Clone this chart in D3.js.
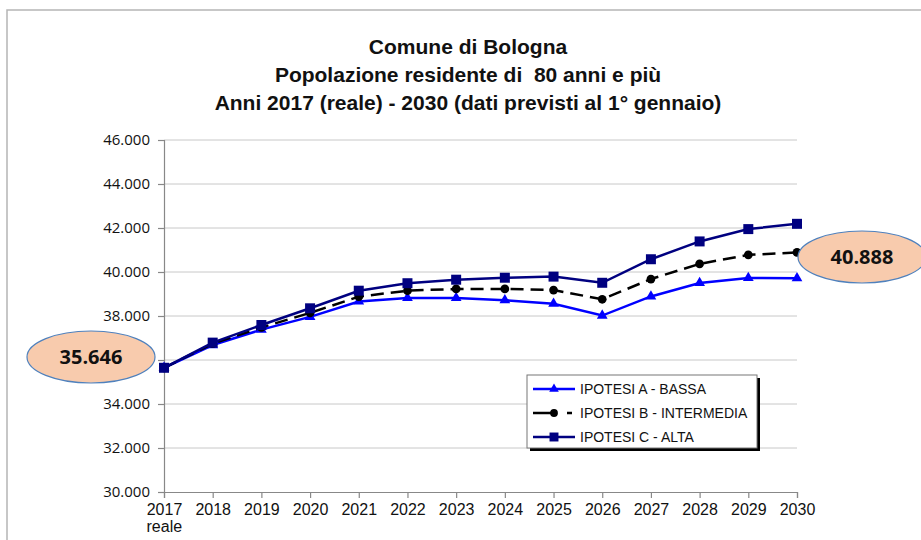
<!DOCTYPE html>
<html>
<head>
<meta charset="utf-8">
<script src="https://cdn.jsdelivr.net/npm/d3@7"></script>
<style>
  body { margin: 0; background: #fff; }
  svg { display: block; }
</style>
</head>
<body>
<svg id="chart" width="921" height="540"></svg>
<script>
const years = [2017, 2018, 2019, 2020, 2021, 2022, 2023, 2024, 2025, 2026, 2027, 2028, 2029, 2030];
const bassa = [35646, 36680, 37380, 37960, 38660, 38820, 38820, 38720, 38560, 38020, 38890, 39500, 39730, 39720];
const intermedia = [35646, 36740, 37480, 38140, 38880, 39150, 39230, 39230, 39180, 38760, 39680, 40370, 40780, 40888];
const alta = [35646, 36790, 37590, 38350, 39150, 39490, 39650, 39740, 39790, 39510, 40580, 41390, 41950, 42190];
const yTicks = [30000, 32000, 34000, 36000, 38000, 40000, 42000, 44000, 46000];
const titleLines = ["Comune di Bologna", "Popolazione residente di  80 anni e più", "Anni 2017 (reale) - 2030 (dati previsti al 1° gennaio)"];
const seriesNames = ["IPOTESI A - BASSA", "IPOTESI B - INTERMEDIA", "IPOTESI C - ALTA"];

const svg = d3.select("#chart");
const margin = { top: 140, left: 164, right: 124, bottom: 48 };
const width = 921, height = 540;

const x = d3.scalePoint().domain(years).range([margin.left, width - margin.right]);
const y = d3.scaleLinear().domain([30000, 46000]).range([height - margin.bottom, margin.top]);
const fmt = (d) => d3.format(",")(d).replace(/,/g, ".");

// outer frame
svg.append("path")
  .attr("d", `M7,${height} V10 H${width}`)
  .attr("fill", "none").attr("stroke", "#b5b5b5").attr("stroke-width", 1.5);

// title
svg.append("g").selectAll("text").data(titleLines).enter().append("text")
  .attr("x", 468).attr("y", (d, i) => 54 + i * 28)
  .attr("text-anchor", "middle")
  .attr("font-family", "Liberation Sans, Arial, sans-serif")
  .attr("font-weight", "bold").attr("font-size", 21).attr("fill", "#111")
  .attr("xml:space", "preserve")
  .text((d) => d);

// grid
svg.append("g").selectAll("line").data(yTicks.slice(1)).enter().append("line")
  .attr("x1", margin.left).attr("x2", width - margin.right)
  .attr("y1", (d) => y(d)).attr("y2", (d) => y(d))
  .attr("stroke", "#c8c8c8").attr("stroke-width", 1);

// axes
const yAxis = svg.append("g").attr("transform", `translate(${margin.left},0)`)
  .call(d3.axisLeft(y).tickValues(yTicks).tickSize(6).tickPadding(8).tickFormat(fmt));
yAxis.selectAll("text").attr("font-family", "Open Sans, sans-serif").attr("font-size", 15).attr("fill", "#111");

const xAxis = svg.append("g").attr("transform", `translate(0,${y(30000)})`)
  .call(d3.axisBottom(x).tickSize(6).tickPadding(6));
xAxis.selectAll("text").attr("font-family", "Liberation Sans, Arial, sans-serif").attr("font-size", 16).attr("fill", "#111");
xAxis.select(".tick text").clone().attr("dy", "1.75em").attr("x", -18).attr("text-anchor", "start").text("reale");

svg.selectAll(".domain, .tick line").attr("stroke", "#888").attr("stroke-width", 1.2);

// series
const series = [
  { name: seriesNames[0], values: bassa, color: "#0000ff", dash: null, marker: "tri" },
  { name: seriesNames[1], values: intermedia, color: "#000000", dash: "13,7", marker: "circle" },
  { name: seriesNames[2], values: alta, color: "#000080", dash: null, marker: "square" },
];
const line = d3.line().x((d, i) => x(years[i])).y((d) => y(d));
const symbolOf = { tri: d3.symbolTriangle, circle: d3.symbolCircle, square: d3.symbolSquare };
const sizeOf = { tri: 50, circle: 60, square: 100 };

series.forEach((s) => {
  svg.append("path").datum(s.values)
    .attr("d", line).attr("fill", "none")
    .attr("stroke", s.color).attr("stroke-width", 2.5)
    .attr("stroke-dasharray", s.dash);
  svg.append("g").selectAll("path").data(s.values).enter().append("path")
    .attr("transform", (d, i) => `translate(${x(years[i])},${y(d)})`)
    .attr("d", d3.symbol().type(symbolOf[s.marker]).size(sizeOf[s.marker]))
    .attr("fill", s.color);
});

// callouts (the left one covers the 36.000 tick label, as in the original)
yAxis.selectAll(".tick").filter((d) => d === 36000).select("text").remove();
const callouts = [
  { cx: 91, cy: 357, value: bassa[0] },
  { cx: 862, cy: 257, value: intermedia[intermedia.length - 1] },
];
const cg = svg.append("g").selectAll("g").data(callouts).enter().append("g");
cg.append("ellipse")
  .attr("cx", (d) => d.cx).attr("cy", (d) => d.cy).attr("rx", 64).attr("ry", 26)
  .attr("fill", "#f8cbad").attr("stroke", "#4f81bd").attr("stroke-width", 1.2);
cg.append("text")
  .attr("x", (d) => d.cx).attr("y", (d) => d.cy + 7)
  .attr("text-anchor", "middle")
  .attr("font-family", "Open Sans, sans-serif").attr("font-weight", "bold").attr("font-size", 20).attr("fill", "#111")
  .text((d) => fmt(d.value));

// legend
const lg = svg.append("g").attr("transform", "translate(527,375)");
lg.append("rect").attr("x", 3).attr("y", 3).attr("width", 230).attr("height", 73).attr("fill", "#000");
lg.append("rect").attr("width", 230).attr("height", 73).attr("fill", "#fff").attr("stroke", "#777").attr("stroke-width", 1);
const items = lg.selectAll("g.item").data(series).enter().append("g")
  .attr("transform", (d, i) => `translate(0,${14 + i * 24})`);
items.append("line").attr("x1", 6).attr("x2", 48).attr("y1", 0).attr("y2", 0)
  .attr("stroke", (d) => d.color).attr("stroke-width", 2.5)
  .attr("stroke-dasharray", (d) => (d.dash ? "24,10,5,20" : null));
items.append("path").attr("transform", "translate(27,0)")
  .attr("d", (d) => d3.symbol().type(symbolOf[d.marker]).size(sizeOf[d.marker] * 0.8)())
  .attr("fill", (d) => d.color);
items.append("text").attr("x", 53).attr("y", 5)
  .attr("font-family", "Liberation Sans, Arial, sans-serif").attr("font-size", 14).attr("fill", "#111")
  .text((d) => d.name);
</script>
</body>
</html>
